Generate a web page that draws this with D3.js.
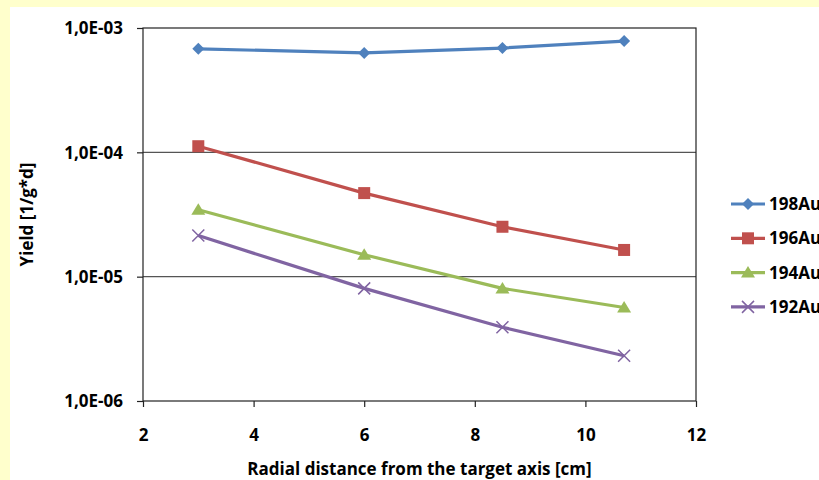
<!DOCTYPE html>
<html>
<head>
<meta charset="utf-8">
<script src="https://cdn.jsdelivr.net/npm/d3@7"></script>
<style>
  html, body { margin: 0; padding: 0; background: #FFFFCC; }
  svg { display: block; }
  text { font-family: "Open Sans", Lato, sans-serif; font-weight: bold; fill: #000; }
</style>
</head>
<body>
<svg id="chart" width="819" height="480"></svg>
<script>
// Radial distance from the target axis [cm]
const distances = [3, 6, 8.5, 10.7];

// Yield per isotope [1/g*d]
const seriesNames = ["198Au", "196Au", "194Au", "192Au"];
const yield198 = [6.8e-4, 6.3e-4, 6.9e-4, 7.85e-4];
const yield196 = [1.12e-4, 4.7e-5, 2.52e-5, 1.64e-5];
const yield194 = [3.45e-5, 1.5e-5, 8.05e-6, 5.65e-6];
const yield192 = [2.14e-5, 8.05e-6, 3.92e-6, 2.31e-6];

const xTicks = [2, 4, 6, 8, 10, 12];
const yTicks = [1e-6, 1e-5, 1e-4, 1e-3];
const yTickLabels = ["1,0E-06", "1,0E-05", "1,0E-04", "1,0E-03"];

const colors = ["#4F81BD", "#C0504D", "#9BBB59", "#8064A2"];
const markers = ["diamond", "square", "triangle", "cross"];

const series = seriesNames.map((name, i) => ({
  name,
  values: [yield198, yield196, yield194, yield192][i],
  color: colors[i],
  marker: markers[i]
}));

const fontSize = 17;
const svg = d3.select("#chart");

// white chart panel
svg.append("rect").attr("x", 10).attr("y", 7).attr("width", 809).attr("height", 473).attr("fill", "#fff");

const plot = { left: 143, top: 28, right: 696, bottom: 401 };

const x = d3.scaleLinear().domain([2, 12]).range([plot.left, plot.right]);
const y = d3.scaleLog().domain([1e-6, 1e-3]).range([plot.bottom, plot.top]);

// horizontal gridlines
svg.append("g").selectAll("line").data(yTicks.slice(1, -1)).join("line")
  .attr("x1", plot.left).attr("x2", plot.right)
  .attr("y1", d => y(d)).attr("y2", d => y(d))
  .attr("stroke", "#555").attr("stroke-width", 1.2);

// plot border
svg.append("rect")
  .attr("x", plot.left).attr("y", plot.top)
  .attr("width", plot.right - plot.left).attr("height", plot.bottom - plot.top)
  .attr("fill", "none").attr("stroke", "#222").attr("stroke-width", 1.2);

// x axis
const xAxis = svg.append("g")
  .attr("transform", `translate(0,${plot.bottom})`)
  .call(d3.axisBottom(x).tickValues(xTicks).tickSize(6).tickFormat(d3.format("d")));
xAxis.select(".domain").remove();
xAxis.selectAll("line").attr("stroke", "#222").attr("stroke-width", 1.2);
xAxis.selectAll("text").attr("font-size", fontSize).attr("font-family", null)
  .attr("y", 40).attr("dy", 0);

// y axis
const yAxis = svg.append("g")
  .attr("transform", `translate(${plot.left},0)`)
  .call(d3.axisLeft(y).tickValues(yTicks).tickSize(6)
    .tickFormat((d, i) => yTickLabels[i]));
yAxis.select(".domain").remove();
yAxis.selectAll("line").attr("stroke", "#222").attr("stroke-width", 1.2);
yAxis.selectAll("text").attr("font-size", fontSize).attr("font-family", null)
  .attr("x", -20).attr("dy", "0.34em");

// axis titles
svg.append("text")
  .attr("x", (plot.left + plot.right) / 2).attr("y", 475)
  .attr("text-anchor", "middle").attr("font-size", fontSize)
  .text("Radial distance from the target axis [cm]");

svg.append("text")
  .attr("transform", `translate(33,${(plot.top + plot.bottom) / 2}) rotate(-90)`)
  .attr("text-anchor", "middle").attr("font-size", fontSize)
  .text("Yield [1/g*d]");

// marker drawing
function drawMarker(g, type, color) {
  if (type === "diamond") {
    g.append("path").attr("d", "M0,-6L6,0L0,6L-6,0Z").attr("fill", color);
  } else if (type === "square") {
    g.append("rect").attr("x", -6).attr("y", -6).attr("width", 12).attr("height", 12).attr("fill", color);
  } else if (type === "triangle") {
    g.append("path").attr("d", "M0,-6.5L7,5L-7,5Z").attr("fill", color);
  } else {
    g.append("path").attr("d", "M-6,-6L6,6M-6,6L6,-6").attr("stroke", color).attr("stroke-width", 1.5).attr("fill", "none");
  }
}

const line = d3.line().x(d => x(d[0])).y(d => y(d[1]));

series.forEach(s => {
  const pts = distances.map((d, i) => [d, s.values[i]]);
  svg.append("path").datum(pts)
    .attr("d", line).attr("fill", "none")
    .attr("stroke", s.color).attr("stroke-width", 3.2).attr("stroke-linejoin", "round");
  pts.forEach(p => {
    const g = svg.append("g").attr("transform", `translate(${x(p[0])},${y(p[1])})`);
    drawMarker(g, s.marker, s.color);
  });
});

// legend
const legend = svg.append("g").attr("transform", "translate(731,204)");
series.forEach((s, i) => {
  const row = legend.append("g").attr("transform", `translate(0,${i * 34.3})`);
  row.append("line").attr("x1", 0).attr("x2", 34).attr("y1", 0).attr("y2", 0)
    .attr("stroke", s.color).attr("stroke-width", 3.2);
  const m = row.append("g").attr("transform", "translate(17,0)");
  drawMarker(m, s.marker, s.color);
  row.append("text").attr("x", 38).attr("y", 6).attr("font-size", fontSize).text(s.name);
});
</script>
</body>
</html>
